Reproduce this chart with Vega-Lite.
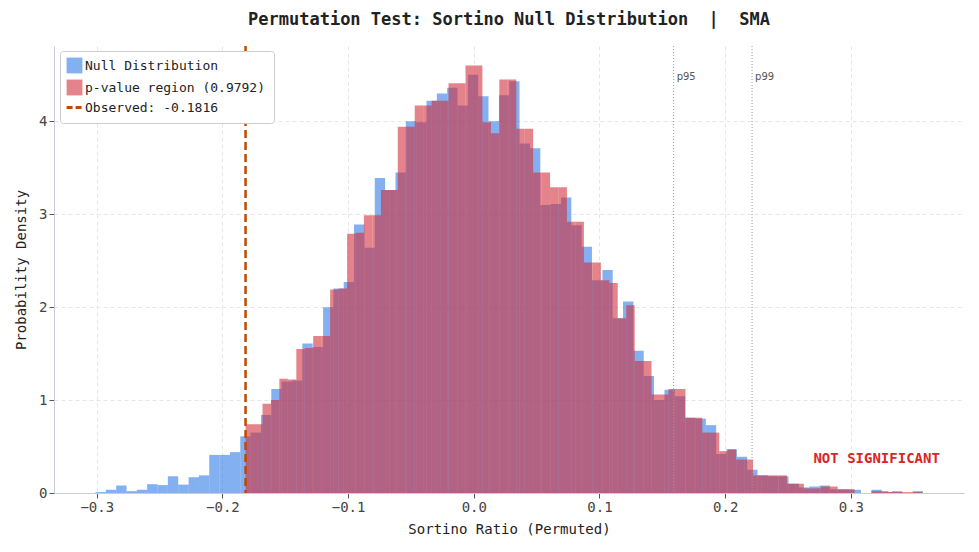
{
  "$schema": "https://vega.github.io/schema/vega-lite/v6.json",
  "width": 979,
  "height": 552,
  "autosize": {"type": "fit", "contains": "padding"},
  "padding": {"left": 14, "right": 15, "top": 10, "bottom": 16},
  "background": "white",
  "title": {
    "text": "Permutation Test: Sortino Null Distribution\u00a0\u00a0|\u00a0\u00a0SMA",
    "font": "DejaVu Sans Mono",
    "fontSize": 17,
    "fontWeight": "bold",
    "color": "#222222",
    "offset": 16
  },
  "config": {
    "font": "DejaVu Sans Mono",
    "view": {"stroke": null},
    "rect": {"strokeWidth": 0},
    "axis": {
      "labelFont": "DejaVu Sans Mono",
      "titleFont": "DejaVu Sans Mono",
      "labelFontSize": 14,
      "titleFontSize": 14,
      "titleFontWeight": "normal",
      "labelColor": "#444444",
      "titleColor": "#222222",
      "domainColor": "#c8ccd4",
      "tickColor": "#555555",
      "gridColor": "#e6e6e6",
      "gridDash": [4, 3]
    },
    "legend": {
      "title": null,
      "orient": "none",
      "legendX": 6,
      "legendY": 5,
      "labelFont": "DejaVu Sans Mono",
      "labelFontSize": 13,
      "labelColor": "#222222",
      "labelLimit": 400,
      "symbolSize": 250,
      "padding": 8,
      "strokeColor": "#cccccc",
      "fillColor": "white",
      "cornerRadius": 3,
      "rowPadding": 5
    }
  },
  "datasets": {
    "nullDist": [
      {"a": -0.3010, "b": -0.2928, "d": 0.01},
      {"a": -0.2928, "b": -0.2845, "d": 0.035},
      {"a": -0.2845, "b": -0.2763, "d": 0.08},
      {"a": -0.2763, "b": -0.2681, "d": 0.02},
      {"a": -0.2681, "b": -0.2599, "d": 0.035},
      {"a": -0.2599, "b": -0.2516, "d": 0.095},
      {"a": -0.2516, "b": -0.2434, "d": 0.085},
      {"a": -0.2434, "b": -0.2352, "d": 0.18},
      {"a": -0.2352, "b": -0.2269, "d": 0.09},
      {"a": -0.2269, "b": -0.2187, "d": 0.17},
      {"a": -0.2187, "b": -0.2105, "d": 0.19},
      {"a": -0.2105, "b": -0.2022, "d": 0.41},
      {"a": -0.2022, "b": -0.1940, "d": 0.41},
      {"a": -0.1940, "b": -0.1858, "d": 0.44},
      {"a": -0.1858, "b": -0.1776, "d": 0.61},
      {"a": -0.1776, "b": -0.1693, "d": 0.65},
      {"a": -0.1693, "b": -0.1611, "d": 0.84},
      {"a": -0.1611, "b": -0.1529, "d": 1.12},
      {"a": -0.1529, "b": -0.1446, "d": 1.2},
      {"a": -0.1446, "b": -0.1364, "d": 1.21},
      {"a": -0.1364, "b": -0.1282, "d": 1.61},
      {"a": -0.1282, "b": -0.1199, "d": 1.57},
      {"a": -0.1199, "b": -0.1117, "d": 2.0},
      {"a": -0.1117, "b": -0.1035, "d": 2.2},
      {"a": -0.1035, "b": -0.0953, "d": 2.27},
      {"a": -0.0953, "b": -0.0870, "d": 2.89},
      {"a": -0.0870, "b": -0.0788, "d": 2.64},
      {"a": -0.0788, "b": -0.0706, "d": 3.39},
      {"a": -0.0706, "b": -0.0623, "d": 3.26},
      {"a": -0.0623, "b": -0.0541, "d": 3.45},
      {"a": -0.0541, "b": -0.0459, "d": 4.0},
      {"a": -0.0459, "b": -0.0376, "d": 3.99},
      {"a": -0.0376, "b": -0.0294, "d": 4.22},
      {"a": -0.0294, "b": -0.0212, "d": 4.3},
      {"a": -0.0212, "b": -0.0130, "d": 4.36},
      {"a": -0.0130, "b": -0.0047, "d": 4.17},
      {"a": -0.0047, "b": 0.0035, "d": 4.5},
      {"a": 0.0035, "b": 0.0117, "d": 4.27},
      {"a": 0.0117, "b": 0.0200, "d": 4.0},
      {"a": 0.0200, "b": 0.0282, "d": 4.28},
      {"a": 0.0282, "b": 0.0364, "d": 4.43},
      {"a": 0.0364, "b": 0.0447, "d": 3.76},
      {"a": 0.0447, "b": 0.0529, "d": 3.71},
      {"a": 0.0529, "b": 0.0611, "d": 3.1},
      {"a": 0.0611, "b": 0.0694, "d": 3.11},
      {"a": 0.0694, "b": 0.0776, "d": 3.18},
      {"a": 0.0776, "b": 0.0858, "d": 2.88},
      {"a": 0.0858, "b": 0.0940, "d": 2.65},
      {"a": 0.0940, "b": 0.1023, "d": 2.29},
      {"a": 0.1023, "b": 0.1105, "d": 2.4},
      {"a": 0.1105, "b": 0.1187, "d": 1.88},
      {"a": 0.1187, "b": 0.1270, "d": 2.06},
      {"a": 0.1270, "b": 0.1352, "d": 1.53},
      {"a": 0.1352, "b": 0.1434, "d": 1.26},
      {"a": 0.1434, "b": 0.1517, "d": 1.0},
      {"a": 0.1517, "b": 0.1599, "d": 1.11},
      {"a": 0.1599, "b": 0.1681, "d": 1.04},
      {"a": 0.1681, "b": 0.1763, "d": 0.81},
      {"a": 0.1763, "b": 0.1846, "d": 0.8},
      {"a": 0.1846, "b": 0.1928, "d": 0.73},
      {"a": 0.1928, "b": 0.2010, "d": 0.42},
      {"a": 0.2010, "b": 0.2093, "d": 0.47},
      {"a": 0.2093, "b": 0.2175, "d": 0.39},
      {"a": 0.2175, "b": 0.2257, "d": 0.25},
      {"a": 0.2257, "b": 0.2340, "d": 0.19},
      {"a": 0.2340, "b": 0.2422, "d": 0.18},
      {"a": 0.2422, "b": 0.2504, "d": 0.18},
      {"a": 0.2504, "b": 0.2586, "d": 0.10},
      {"a": 0.2586, "b": 0.2669, "d": 0.06},
      {"a": 0.2669, "b": 0.2751, "d": 0.07},
      {"a": 0.2751, "b": 0.2833, "d": 0.08},
      {"a": 0.2833, "b": 0.2916, "d": 0.04},
      {"a": 0.2916, "b": 0.2998, "d": 0.04},
      {"a": 0.2998, "b": 0.3080, "d": 0.035},
      {"a": 0.3080, "b": 0.3163, "d": 0},
      {"a": 0.3163, "b": 0.3245, "d": 0.035},
      {"a": 0.3245, "b": 0.3327, "d": 0.01},
      {"a": 0.3327, "b": 0.3409, "d": 0.02},
      {"a": 0.3409, "b": 0.3492, "d": 0},
      {"a": 0.3492, "b": 0.3574, "d": 0.02}
    ],
    "pRegion": [
      {"a": -0.1816, "b": -0.1749, "d": 0.74},
      {"a": -0.1749, "b": -0.1681, "d": 0.74},
      {"a": -0.1681, "b": -0.1614, "d": 0.96},
      {"a": -0.1614, "b": -0.1547, "d": 1.0},
      {"a": -0.1547, "b": -0.1480, "d": 1.23},
      {"a": -0.1480, "b": -0.1412, "d": 1.22},
      {"a": -0.1412, "b": -0.1345, "d": 1.55},
      {"a": -0.1345, "b": -0.1278, "d": 1.56},
      {"a": -0.1278, "b": -0.1210, "d": 1.69},
      {"a": -0.1210, "b": -0.1143, "d": 1.69},
      {"a": -0.1143, "b": -0.1076, "d": 2.19},
      {"a": -0.1076, "b": -0.1008, "d": 2.2},
      {"a": -0.1008, "b": -0.0941, "d": 2.79},
      {"a": -0.0941, "b": -0.0874, "d": 2.8},
      {"a": -0.0874, "b": -0.0807, "d": 2.99},
      {"a": -0.0807, "b": -0.0739, "d": 2.99},
      {"a": -0.0739, "b": -0.0672, "d": 3.26},
      {"a": -0.0672, "b": -0.0605, "d": 3.26},
      {"a": -0.0605, "b": -0.0537, "d": 3.94},
      {"a": -0.0537, "b": -0.0470, "d": 3.94},
      {"a": -0.0470, "b": -0.0403, "d": 4.17},
      {"a": -0.0403, "b": -0.0335, "d": 4.17},
      {"a": -0.0335, "b": -0.0268, "d": 4.22},
      {"a": -0.0268, "b": -0.0201, "d": 4.22},
      {"a": -0.0201, "b": -0.0134, "d": 4.41},
      {"a": -0.0134, "b": -0.0066, "d": 4.41},
      {"a": -0.0066, "b": 0.0001, "d": 4.6},
      {"a": 0.0001, "b": 0.0068, "d": 4.6},
      {"a": 0.0068, "b": 0.0136, "d": 3.99},
      {"a": 0.0136, "b": 0.0203, "d": 3.87},
      {"a": 0.0203, "b": 0.0270, "d": 4.45},
      {"a": 0.0270, "b": 0.0338, "d": 4.45},
      {"a": 0.0338, "b": 0.0405, "d": 3.92},
      {"a": 0.0405, "b": 0.0472, "d": 3.92},
      {"a": 0.0472, "b": 0.0540, "d": 3.45},
      {"a": 0.0540, "b": 0.0607, "d": 3.45},
      {"a": 0.0607, "b": 0.0674, "d": 3.29},
      {"a": 0.0674, "b": 0.0741, "d": 3.29},
      {"a": 0.0741, "b": 0.0809, "d": 2.92},
      {"a": 0.0809, "b": 0.0876, "d": 2.92},
      {"a": 0.0876, "b": 0.0943, "d": 2.48},
      {"a": 0.0943, "b": 0.1011, "d": 2.48},
      {"a": 0.1011, "b": 0.1078, "d": 2.29},
      {"a": 0.1078, "b": 0.1145, "d": 2.26},
      {"a": 0.1145, "b": 0.1213, "d": 1.88},
      {"a": 0.1213, "b": 0.1280, "d": 2.02},
      {"a": 0.1280, "b": 0.1347, "d": 1.42},
      {"a": 0.1347, "b": 0.1414, "d": 1.42},
      {"a": 0.1414, "b": 0.1482, "d": 1.06},
      {"a": 0.1482, "b": 0.1549, "d": 1.06},
      {"a": 0.1549, "b": 0.1616, "d": 1.12},
      {"a": 0.1616, "b": 0.1684, "d": 1.12},
      {"a": 0.1684, "b": 0.1751, "d": 0.81},
      {"a": 0.1751, "b": 0.1818, "d": 0.81},
      {"a": 0.1818, "b": 0.1886, "d": 0.65},
      {"a": 0.1886, "b": 0.1953, "d": 0.65},
      {"a": 0.1953, "b": 0.2020, "d": 0.45},
      {"a": 0.2020, "b": 0.2087, "d": 0.47},
      {"a": 0.2087, "b": 0.2155, "d": 0.36},
      {"a": 0.2155, "b": 0.2222, "d": 0.36},
      {"a": 0.2222, "b": 0.2289, "d": 0.19},
      {"a": 0.2289, "b": 0.2357, "d": 0.19},
      {"a": 0.2357, "b": 0.2424, "d": 0.19},
      {"a": 0.2424, "b": 0.2491, "d": 0.19},
      {"a": 0.2491, "b": 0.2559, "d": 0.10},
      {"a": 0.2559, "b": 0.2626, "d": 0.10},
      {"a": 0.2626, "b": 0.2693, "d": 0.05},
      {"a": 0.2693, "b": 0.2760, "d": 0.05},
      {"a": 0.2760, "b": 0.2828, "d": 0.07},
      {"a": 0.2828, "b": 0.2895, "d": 0.07},
      {"a": 0.2895, "b": 0.2962, "d": 0.04},
      {"a": 0.2962, "b": 0.3030, "d": 0.04},
      {"a": 0.3030, "b": 0.3097, "d": 0},
      {"a": 0.3097, "b": 0.3164, "d": 0},
      {"a": 0.3164, "b": 0.3232, "d": 0.02},
      {"a": 0.3232, "b": 0.3299, "d": 0.02},
      {"a": 0.3299, "b": 0.3366, "d": 0.01},
      {"a": 0.3366, "b": 0.3433, "d": 0.01},
      {"a": 0.3433, "b": 0.3501, "d": 0.01},
      {"a": 0.3501, "b": 0.3568, "d": 0.01}
    ]
  },
  "encoding": {
    "x": {
      "type": "quantitative",
      "scale": {"domain": [-0.334, 0.39], "nice": false, "zero": false},
      "axis": {"title": "Sortino Ratio (Permuted)", "values": [-0.3, -0.2, -0.1, 0, 0.1, 0.2, 0.3], "format": ".1f", "titlePadding": 8}
    },
    "y": {
      "type": "quantitative",
      "scale": {"domain": [0, 4.81], "nice": false},
      "axis": {"title": "Probability Density", "values": [0, 1, 2, 3, 4], "titlePadding": 10}
    },
    "color": {
      "field": "s",
      "type": "nominal",
      "scale": {
        "domain": ["Null Distribution", "p-value region (0.9792)", "Observed: -0.1816"],
        "range": ["#2f7ce6", "#d2303c", "#c04a00"]
      },
      "legend": {
        "encode": {
          "symbols": {
            "update": {
              "shape": {"signal": "datum.value === 'Observed: -0.1816' ? 'stroke' : 'square'"},
              "strokeDash": {"signal": "datum.value === 'Observed: -0.1816' ? [6, 3] : []"},
              "strokeWidth": {"signal": "datum.value === 'Observed: -0.1816' ? 3 : 0"},
              "stroke": {"signal": "datum.value === 'Observed: -0.1816' ? '#c04a00' : 'transparent'"},
              "fillOpacity": {"signal": "datum.value === 'Observed: -0.1816' ? 0 : 0.6"}
            }
          }
        }
      }
    }
  },
  "layer": [
    {
      "data": {"name": "nullDist"},
      "transform": [{"calculate": "'Null Distribution'", "as": "s"}],
      "mark": {"type": "rect", "opacity": 0.6},
      "encoding": {
        "x": {"field": "a", "type": "quantitative"},
        "x2": {"field": "b"},
        "y": {"field": "d", "type": "quantitative"},
        "y2": {"datum": 0}
      }
    },
    {
      "data": {"name": "pRegion"},
      "transform": [{"calculate": "'p-value region (0.9792)'", "as": "s"}],
      "mark": {"type": "rect", "opacity": 0.6},
      "encoding": {
        "x": {"field": "a", "type": "quantitative"},
        "x2": {"field": "b"},
        "y": {"field": "d", "type": "quantitative"},
        "y2": {"datum": 0}
      }
    },
    {
      "data": {"values": [{"p": "p95", "v": 0.159}, {"p": "p99", "v": 0.2214}]},
      "layer": [
        {
          "mark": {"type": "rule", "color": "#999999", "strokeDash": [1, 2], "strokeWidth": 1},
          "encoding": {"x": {"field": "v", "type": "quantitative"}, "color": null}
        },
        {
          "mark": {"type": "text", "align": "left", "dx": 3, "fontSize": 10, "font": "DejaVu Sans", "color": "#555555"},
          "encoding": {
            "x": {"field": "v", "type": "quantitative"},
            "y": {"datum": 4.48},
            "text": {"field": "p"},
            "color": null
          }
        }
      ]
    },
    {
      "data": {"values": [{"s": "Observed: -0.1816", "v": -0.1816}]},
      "mark": {"type": "rule", "strokeDash": [8, 4], "strokeWidth": 2.5},
      "encoding": {
        "x": {"field": "v", "type": "quantitative"}
      }
    },
    {
      "data": {"values": [{"label": "NOT SIGNIFICANT", "v": 0.3205, "d": 0.37}]},
      "mark": {"type": "text", "fontSize": 14, "fontWeight": "bold", "font": "DejaVu Sans Mono", "color": "#d62728"},
      "encoding": {
        "x": {"field": "v", "type": "quantitative"},
        "y": {"field": "d", "type": "quantitative"},
        "text": {"field": "label"},
        "color": null
      }
    }
  ]
}
